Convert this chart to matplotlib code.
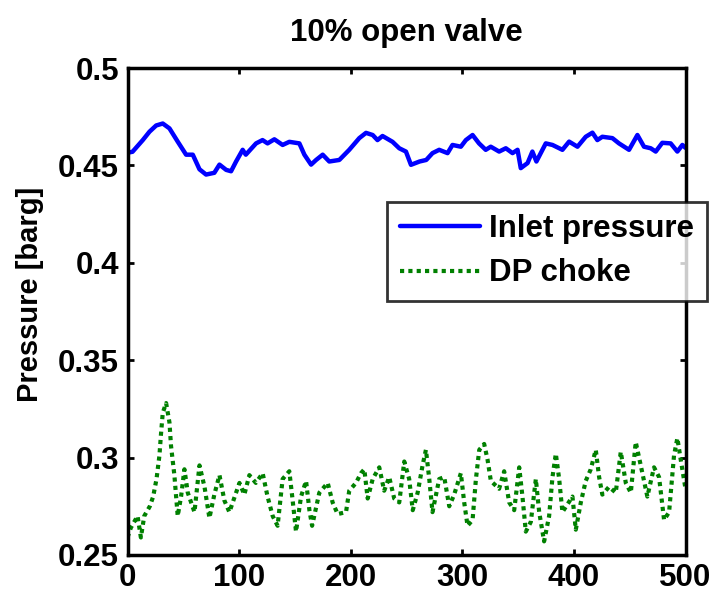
import matplotlib
matplotlib.use("Agg")
import matplotlib.pyplot as plt

plt.rcParams['font.family'] = ['Liberation Sans', 'DejaVu Sans']
plt.rcParams['font.weight'] = 'bold'

# Inlet pressure trace (time in s, pressure in barg)
inlet_t = [0, 4.5, 13.7, 19.7, 25.7, 31.6, 37.6, 45, 52.5, 58.5, 64.5, 70.4, 77.8, 82.4,
           88.4, 92.8, 97.3, 103.2, 106, 115.2, 121, 125.5, 131.6, 139, 145, 154, 158.5,
           164.5, 169, 174.9, 180.8, 189.8, 198.7, 207.7, 213.7, 219.7, 224, 228.5, 237.5,
           243.5, 249.5, 254, 261.7, 267.7, 273.3, 279.3, 286.8, 291.2, 298.7, 303.2, 309.2,
           315, 321, 325.5, 333, 339, 345, 349.5, 352.4, 358.5, 362.8, 366.4, 374.8, 380.8,
           389.7, 395.7, 403.2, 410.6, 416.6, 421, 425.5, 434.5, 440.4, 449.4, 456.9, 462.8,
           468.8, 473.3, 479.2, 486.7, 492.7, 497.2, 500]
inlet_p = [0.4565, 0.457, 0.463, 0.4673, 0.4705, 0.4715, 0.469, 0.4622, 0.4555, 0.4555,
           0.448, 0.4453, 0.4462, 0.4504, 0.4477, 0.447, 0.452, 0.458, 0.4555, 0.4613, 0.463,
           0.4613, 0.4634, 0.4605, 0.4621, 0.4613, 0.4555, 0.4504, 0.4528, 0.4555, 0.452,
           0.4528, 0.458, 0.464, 0.4667, 0.4656, 0.463, 0.4651, 0.4621, 0.4588, 0.4571,
           0.4503, 0.452, 0.4528, 0.4563, 0.458, 0.4563, 0.4605, 0.4596, 0.463, 0.4656,
           0.4613, 0.458, 0.4596, 0.4571, 0.4588, 0.4563, 0.458, 0.4486, 0.4512, 0.4571,
           0.452, 0.4613, 0.4605, 0.458, 0.4622, 0.4596, 0.4647, 0.4668, 0.463, 0.4647,
           0.464, 0.4613, 0.458, 0.4656, 0.4596, 0.4588, 0.4571, 0.4616, 0.4613, 0.4571,
           0.4605, 0.459]

# Differential pressure over the choke
choke_t = [0, 3, 9, 12, 15, 20, 23, 26, 28.6, 30, 31.6, 34.6, 37.6, 39, 42, 45, 48, 51, 54,
           60, 64.5, 69, 73.4, 77.8, 82.4, 86.8, 91.3, 97.3, 100.3, 104.7, 109.2, 115, 121.1,
           125.5, 130.1, 134.5, 139, 145, 148, 151, 155.5, 160, 163, 165.4, 171.9, 179.4,
           183.8, 188.3, 195.8, 198.7, 204.7, 209.2, 212.2, 215.2, 219.7, 225.6, 230, 234.5,
           239, 243.5, 248, 252.4, 255.6, 260, 264.4, 267.4, 270.4, 273.3, 279.3, 283.8,
           288.3, 292.7, 298.7, 301.7, 304.7, 309.2, 312.2, 315.2, 319.6, 322.6, 325.6, 333,
           337.5, 342, 346.5, 351, 353.9, 356.9, 361.4, 365.9, 368.9, 373.3, 377.8, 380.8,
           383.8, 386.8, 389.7, 394.2, 398.7, 401.7, 406.2, 410.6, 415.1, 419.6, 422.6, 425.5,
           431.5, 437.5, 442, 446.5, 451, 455.4, 459.9, 465.8, 471.8, 476.3, 480.8, 485.3,
           489.7, 492.7, 495.7, 500]
choke_p = [0.259, 0.264, 0.270, 0.259, 0.270, 0.275, 0.280, 0.289, 0.301, 0.312, 0.323,
           0.328, 0.318, 0.306, 0.291, 0.270, 0.280, 0.294, 0.282, 0.272, 0.296, 0.285,
           0.269, 0.281, 0.291, 0.278, 0.272, 0.282, 0.287, 0.281, 0.291, 0.287, 0.292,
           0.280, 0.270, 0.265, 0.289, 0.293, 0.278, 0.262, 0.280, 0.288, 0.273, 0.265,
           0.282, 0.287, 0.277, 0.271, 0.272, 0.283, 0.287, 0.292, 0.294, 0.279, 0.289,
           0.295, 0.283, 0.290, 0.279, 0.277, 0.298, 0.289, 0.273, 0.282, 0.296, 0.304,
           0.289, 0.272, 0.289, 0.290, 0.275, 0.281, 0.292, 0.277, 0.265, 0.268, 0.289,
           0.304, 0.307, 0.299, 0.288, 0.284, 0.293, 0.277, 0.273, 0.295, 0.280, 0.262,
           0.267, 0.289, 0.272, 0.257, 0.270, 0.290, 0.302, 0.289, 0.272, 0.276, 0.280,
           0.263, 0.277, 0.288, 0.294, 0.304, 0.290, 0.281, 0.285, 0.282, 0.303, 0.287,
           0.282, 0.308, 0.296, 0.280, 0.295, 0.290, 0.268, 0.272, 0.301, 0.310, 0.299,
           0.284]

x_ticks = [0, 100, 200, 300, 400, 500]
y_ticks = [0.25, 0.3, 0.35, 0.4, 0.45, 0.5]
y_tick_labels = ['0.25', '0.3', '0.35', '0.4', '0.45', '0.5']

fig = plt.figure(figsize=(7.16, 6.02), dpi=100)
ax = fig.add_axes([127.5 / 716, 1 - 555 / 602, 558 / 716, 487 / 602])

ax.plot(inlet_t, inlet_p, color=(0, 0, 1), lw=3.2, solid_joinstyle='round',
        solid_capstyle='round', label='Inlet pressure')
ax.plot(choke_t, choke_p, color=(0, 0.5, 0), lw=3.0, dashes=(1, 1),
        dash_capstyle='butt', label='DP choke')

ax.set_xlim(0, 500)
ax.set_ylim(0.25, 0.5)
ax.set_xticks(x_ticks)
ax.set_yticks(y_ticks)
ax.set_yticklabels(y_tick_labels)

for s in ax.spines.values():
    s.set_linewidth(2.5)
ax.tick_params(direction='in', length=4, width=2, top=True, right=True,
               labelsize=22.5, pad=6)
for lab in ax.get_xticklabels() + ax.get_yticklabels():
    lab.set_fontweight('bold')

ax.set_title('10% open valve', fontsize=22.5, fontweight='bold', pad=19.5)
ax.set_ylabel('Pressure [barg]', fontsize=21, fontweight='bold')
ax.yaxis.set_label_coords(-0.150, 0.536)

leg = ax.legend(loc='upper right', bbox_to_anchor=(1.0385, 0.725), borderaxespad=0,
                fontsize=22.5, frameon=True, fancybox=False, handlelength=2.58,
                handletextpad=0.29, borderpad=0.4, labelspacing=0.45)
leg.get_frame().set_edgecolor('black')
leg.get_frame().set_linewidth(2.0)
for t in leg.get_texts():
    t.set_fontweight('bold')

fig.savefig('out.png', dpi=100)
